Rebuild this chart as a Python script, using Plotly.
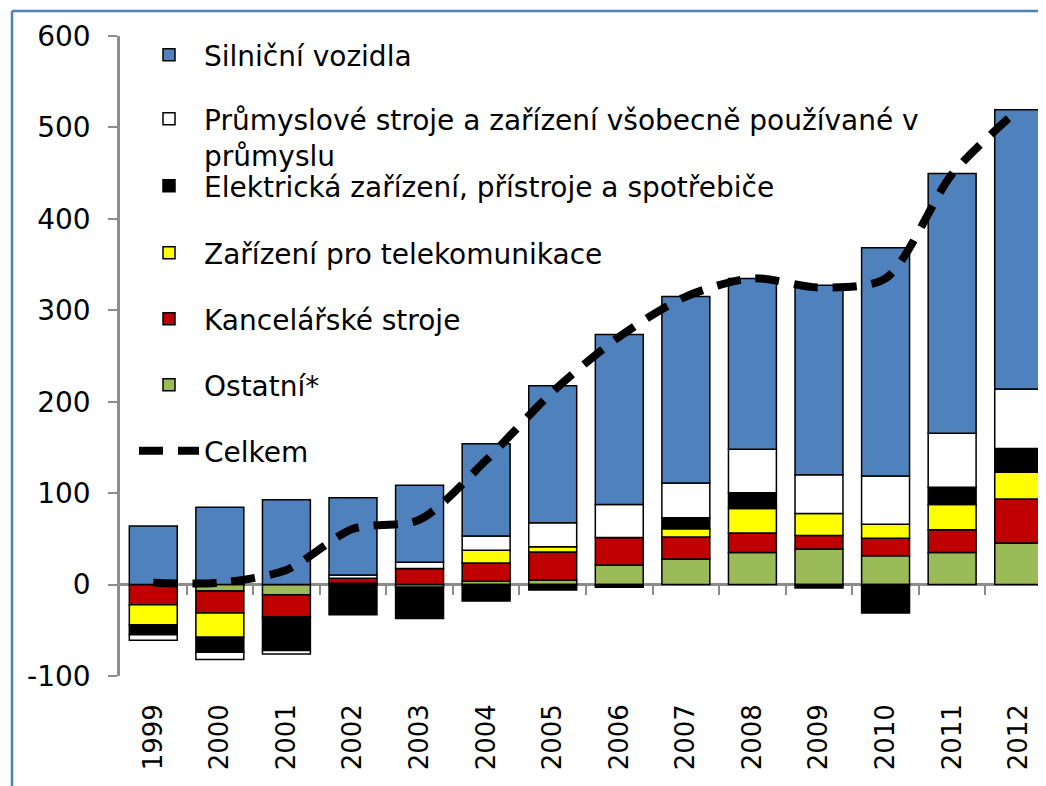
import plotly.graph_objects as go

years = ["1999", "2000", "2001", "2002", "2003", "2004", "2005", "2006",
         "2007", "2008", "2009", "2010", "2011", "2012"]

ostatni = [0, -7, -11, 1.5, -3, 3.5, 5, 21.5, 28, 35, 38.8, 31.4, 35.1, 45.5]
kancelarske = [-22, -24, -24.5, 5.5, 17.5, 20, 30.5, 30, 24, 21.5, 14.8, 19.3, 24.8, 48.1]
telekom = [-22, -26.5, 0, 0, 0, 14, 6, 0, 9, 26.6, 24.1, 15.2, 27.8, 29.2]
elektricka = [-11, -16.5, -36.5, -33, -34, -18, -6, -3, 12, 17.4, -3.7, -31, 18.8, 25.9]
prumyslove = [-6, -8, -4, 3.5, 7, 15.5, 26, 36, 38, 47.4, 42.5, 52.9, 58.9, 65.2]
silnicni = [64, 84.6, 92.7, 84.5, 84, 101, 150, 186, 204, 187, 207.2, 249.6, 284.1, 305.5]
celkem = [2, 2, 16, 61, 71, 136, 211, 271, 315, 335, 325, 335, 449, 520]

y_ticks = [-100, 0, 100, 200, 300, 400, 500, 600]
y_tick_labels = ["-100", "0", "100", "200", "300", "400", "500", "600"]
boundaries = [0.5, 1.5, 2.5, 3.5, 4.5, 5.5, 6.5, 7.5, 8.5, 9.5, 10.5, 11.5, 12.5]

FONT = "DejaVu Sans, Liberation Sans, Arial, sans-serif"
FS = 28

series = [
    ("Ostatní*", ostatni, "#9BBB59", "legend6"),
    ("Kancelářské stroje", kancelarske, "#C00000", "legend5"),
    ("Zařízení pro telekomunikace", telekom, "#FFFF00", "legend4"),
    ("Elektrická zařízení, přístroje a spotřebiče", elektricka, "#000000", "legend3"),
    ("Průmyslové stroje a zařízení všobecně používané v<br>průmyslu", prumyslove, "#FFFFFF", "legend2"),
    ("Silniční vozidla", silnicni, "#4F81BD", "legend"),
]

fig = go.Figure()
for name, vals, color, leg in series:
    fig.add_trace(go.Bar(
        x=years, y=vals, name=name, legend=leg,
        marker=dict(color=color, line=dict(color="#000000", width=1.5)),
    ))

fig.add_trace(go.Scatter(
    x=years, y=celkem, name="Celkem", legend="legend7", mode="lines",
    line=dict(color="#000000", width=8, dash="24px,15px", shape="spline", smoothing=0.8),
))

# empty helper trace so the category-boundary tick axis on the zero line is drawn
fig.add_trace(go.Scatter(x=[], y=[], xaxis="x2", yaxis="y", showlegend=False,
                         hoverinfo="skip"))

# page coordinates (body has 8px margin): plot area spans x 120..1046, y 36..676
def py(ypx):
    return (676 - ypx) / 640.0

def pxx(xpx):
    return (xpx - 120) / 926.0

leg_common = dict(x=pxx(134), xanchor="left", yanchor="middle", bgcolor="rgba(0,0,0,0)",
                  font=dict(family=FONT, size=FS, color="#000000"), itemwidth=60,
                  borderwidth=0)
legend_y = {"legend": 55, "legend2": 137, "legend3": 186, "legend4": 253,
            "legend5": 319, "legend6": 385, "legend7": 451}
legend_layout = {}
for k, v in legend_y.items():
    d = dict(leg_common)
    d["y"] = py(v)
    if k == "legend2":
        d["valign"] = "top"
    legend_layout[k] = d

fig.update_layout(
    width=1038, height=778,
    margin=dict(l=112, r=0, t=28, b=110),
    paper_bgcolor="#FFFFFF", plot_bgcolor="#FFFFFF",
    barmode="relative", bargap=0.28,
    font=dict(family=FONT, size=FS, color="#000000"),
    showlegend=True,
    xaxis=dict(type="category", range=[-0.5, 13.41], showgrid=False, zeroline=False,
               showline=False, ticks="", tickangle=-90, ticklabelstandoff=22,
               tickfont=dict(family=FONT, size=26, color="#000000")),
    xaxis2=dict(type="linear", overlaying="x", anchor="free", position=100 / 700,
                range=[-0.5, 13.41], tickmode="array", tickvals=boundaries,
                ticks="outside", ticklen=9, tickwidth=2, tickcolor="#8C8C8C",
                showticklabels=False, showgrid=False, zeroline=False, showline=False),
    yaxis=dict(range=[-100, 600], tickmode="array", tickvals=y_ticks, ticktext=y_tick_labels,
               showgrid=False, zeroline=True, zerolinecolor="#8C8C8C", zerolinewidth=2.5,
               showline=True, linecolor="#8C8C8C", linewidth=2.5,
               ticks="outside", ticklen=9, tickwidth=2, tickcolor="#8C8C8C",
               ticklabelstandoff=12,
               tickfont=dict(family=FONT, size=FS, color="#000000")),
    shapes=[
        dict(type="line", xref="paper", yref="paper", x0=pxx(12), x1=pxx(1046),
             y0=py(11), y1=py(11), line=dict(color="#4F81BD", width=2.5)),
        dict(type="line", xref="paper", yref="paper", x0=pxx(12), x1=pxx(12),
             y0=py(11), y1=py(786), line=dict(color="#4F81BD", width=2.5)),
    ],
    **legend_layout,
)

fig.write_html("out.html")
